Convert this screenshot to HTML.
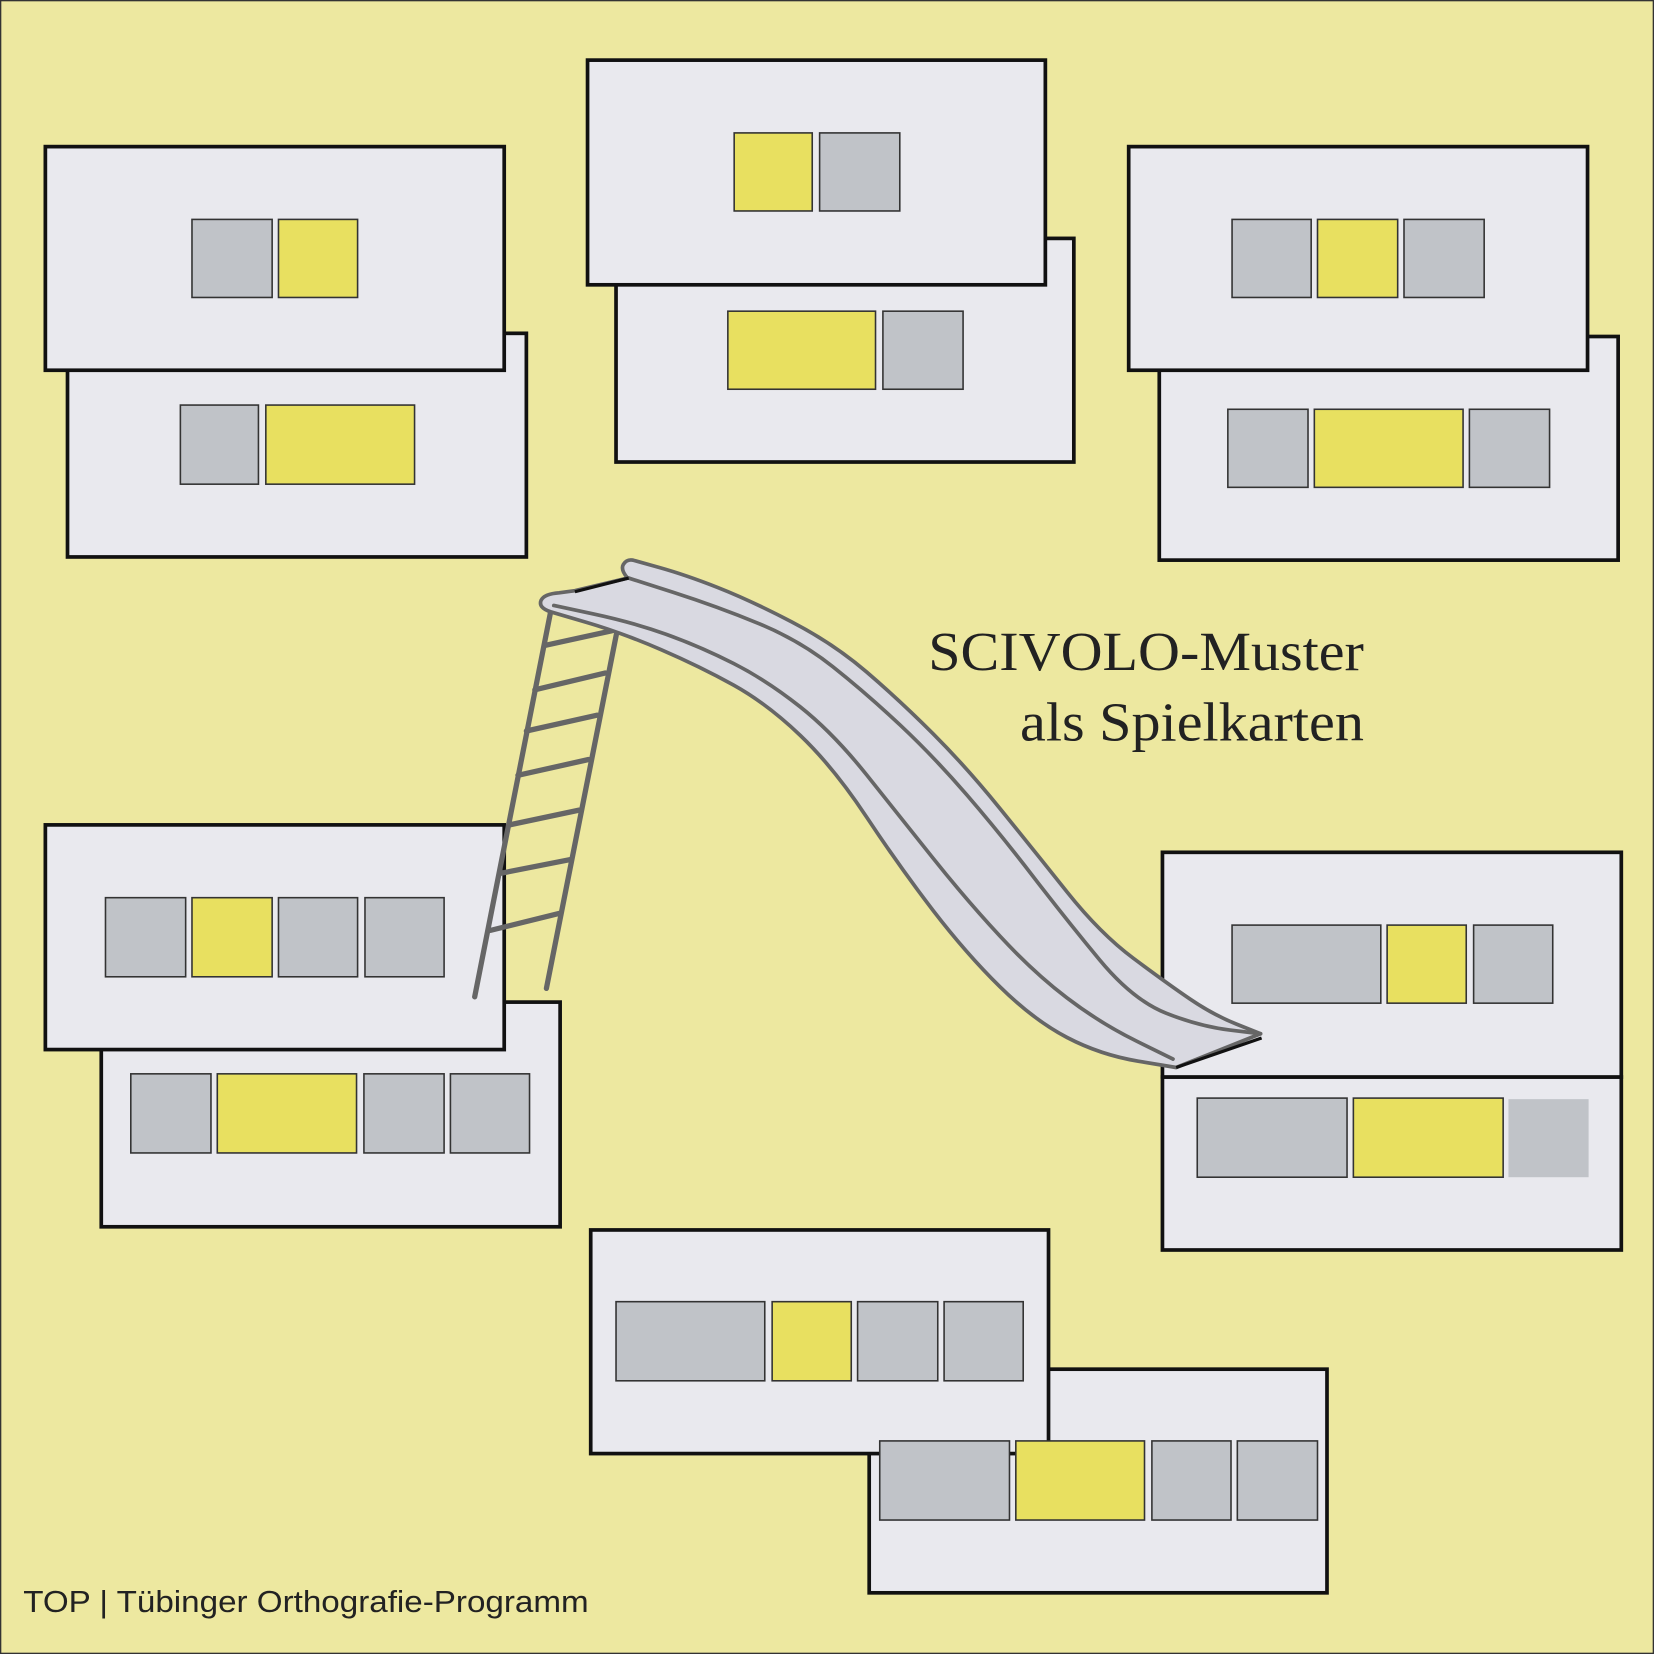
<!DOCTYPE html>
<html><head><meta charset="utf-8"><style>html,body{margin:0;padding:0;background:#ede8a0}svg{display:block}</style></head>
<body>
<svg width="1654" height="1654" viewBox="0 0 1568 1568" xmlns="http://www.w3.org/2000/svg">
<rect x="0.5" y="0.5" width="1567" height="1567" fill="#ede8a0" stroke="#333" stroke-width="1.5"/>
<g stroke="#111" stroke-width="3.5" fill="#e9e9ee">
<rect x="64" y="316" width="435" height="212"/>
<rect x="43" y="139" width="435" height="212"/>
<rect x="584" y="226" width="434" height="212"/>
<rect x="557" y="57" width="434" height="213"/>
<rect x="1099" y="319" width="435" height="212"/>
<rect x="1070" y="139" width="435" height="212"/>
<rect x="96" y="950" width="435" height="213"/>
<rect x="43" y="782" width="435" height="213"/>
<rect x="1102" y="1021" width="435" height="164"/>
<rect x="1102" y="808" width="435" height="213"/>
<rect x="824" y="1298" width="434" height="212"/>
<rect x="560" y="1166" width="434" height="212"/>
</g>
<g stroke="#333" stroke-width="1.5">
<g fill="#c0c3c8">
<rect x="182" y="208" width="76" height="74"/>
<rect x="171" y="384" width="74" height="75"/>
<rect x="777" y="126" width="76" height="74"/>
<rect x="837" y="295" width="76" height="74"/>
<rect x="1168" y="208" width="75" height="74"/>
<rect x="1331" y="208" width="76" height="74"/>
<rect x="1164" y="388" width="76" height="74"/>
<rect x="1393" y="388" width="76" height="74"/>
<rect x="100" y="851" width="76" height="75"/>
<rect x="264" y="851" width="75" height="75"/>
<rect x="346" y="851" width="75" height="75"/>
<rect x="124" y="1018" width="76" height="75"/>
<rect x="345" y="1018" width="76" height="75"/>
<rect x="427" y="1018" width="75" height="75"/>
<rect x="1168" y="877" width="141" height="74"/>
<rect x="1397" y="877" width="75" height="74"/>
<rect x="1135" y="1041" width="142" height="75"/>
<rect x="584" y="1234" width="141" height="75"/>
<rect x="813" y="1234" width="76" height="75"/>
<rect x="895" y="1234" width="75" height="75"/>
<rect x="834" y="1366" width="123" height="75"/>
<rect x="1092" y="1366" width="75" height="75"/>
<rect x="1173" y="1366" width="76" height="75"/>
</g>
<g fill="#e8e060">
<rect x="264" y="208" width="75" height="74"/>
<rect x="252" y="384" width="141" height="75"/>
<rect x="696" y="126" width="74" height="74"/>
<rect x="690" y="295" width="140" height="74"/>
<rect x="1249" y="208" width="76" height="74"/>
<rect x="1246" y="388" width="141" height="74"/>
<rect x="182" y="851" width="76" height="75"/>
<rect x="206" y="1018" width="132" height="75"/>
<rect x="1315" y="877" width="75" height="74"/>
<rect x="1283" y="1041" width="142" height="75"/>
<rect x="732" y="1234" width="75" height="75"/>
<rect x="963" y="1366" width="122" height="75"/>
</g>
</g>
<rect x="1430" y="1042" width="76" height="74" fill="#c0c3c8"/>
<!-- ladder -->
<g stroke="#666" stroke-width="5" fill="none" stroke-linecap="round">
<line x1="522" y1="580" x2="450" y2="945"/>
<line x1="585" y1="598" x2="518" y2="937"/>
<line x1="516" y1="612" x2="580" y2="598"/>
<line x1="507" y1="654" x2="574" y2="638"/>
<line x1="499" y1="693" x2="566" y2="678"/>
<line x1="491" y1="735" x2="558" y2="720"/>
<line x1="483" y1="782" x2="549" y2="768"/>
<line x1="474" y1="828" x2="540" y2="815"/>
<line x1="465" y1="882" x2="530" y2="866"/>
</g>
<!-- slide -->
<g stroke="#666" stroke-width="3.5" stroke-linejoin="round" stroke-linecap="round">
<path fill="#d9d9e1" d="M600,531 L625,538 Q650,545 680.5,557 Q711,569 750.5,589.5 Q790,610 821.5,637 Q853,664 884.5,695.5 Q916,727 948,766.5 Q980,806 1011.5,845.5 Q1043,885 1074.5,908.5 Q1106,932 1128,947 Q1150,962 1172.5,971 L1195,980 L1115,1012 L1079,1006 Q1043,1000 1011.5,983.5 Q980,967 948,935.5 Q916,904 884.5,863 Q853,822 821.5,774.5 Q790,727 758.5,697 Q727,667 695.5,649.5 Q664,632 627,616 Q590,600 556,590 L522,580 Q510,576 513,569 Q516,563 530,562 L545,560 L595,548 Q588,540 591,535 Q594,530 600,531 Z"/>
<path fill="none" d="M596,548 L638,561.5 Q680,575 719,591 Q758,607 789.5,632 Q821,657 853,687 Q885,717 916.5,753.5 Q948,790 979.5,831 Q1011,872 1042.5,910 Q1074,948 1105.5,960.5 Q1137,973 1166,976.5 L1195,980"/>
<path fill="none" d="M525,574 L562.5,582 Q600,590 632,601.5 Q664,613 695.5,629 Q727,645 758.5,670 Q790,695 821.5,734.5 Q853,774 884.5,813.5 Q916,853 948,887.5 Q980,922 1011.5,946 Q1043,970 1077.5,987 L1112,1004"/>
</g>
<line x1="545" y1="561" x2="596" y2="548" stroke="#111" stroke-width="3"/>
<line x1="1115" y1="1012" x2="1196" y2="984" stroke="#111" stroke-width="3"/>
<g font-family="Liberation Serif, serif" font-size="52" fill="#222">
<text x="880" y="635" textLength="413" lengthAdjust="spacingAndGlyphs">SCIVOLO-Muster</text>
<text x="967" y="702" textLength="326" lengthAdjust="spacingAndGlyphs">als Spielkarten</text>
</g>
<text x="22" y="1528" font-family="Liberation Sans, sans-serif" font-size="29" fill="#222" textLength="536" lengthAdjust="spacingAndGlyphs">TOP | Tübinger Orthografie-Programm</text>
</svg>
</body></html>
